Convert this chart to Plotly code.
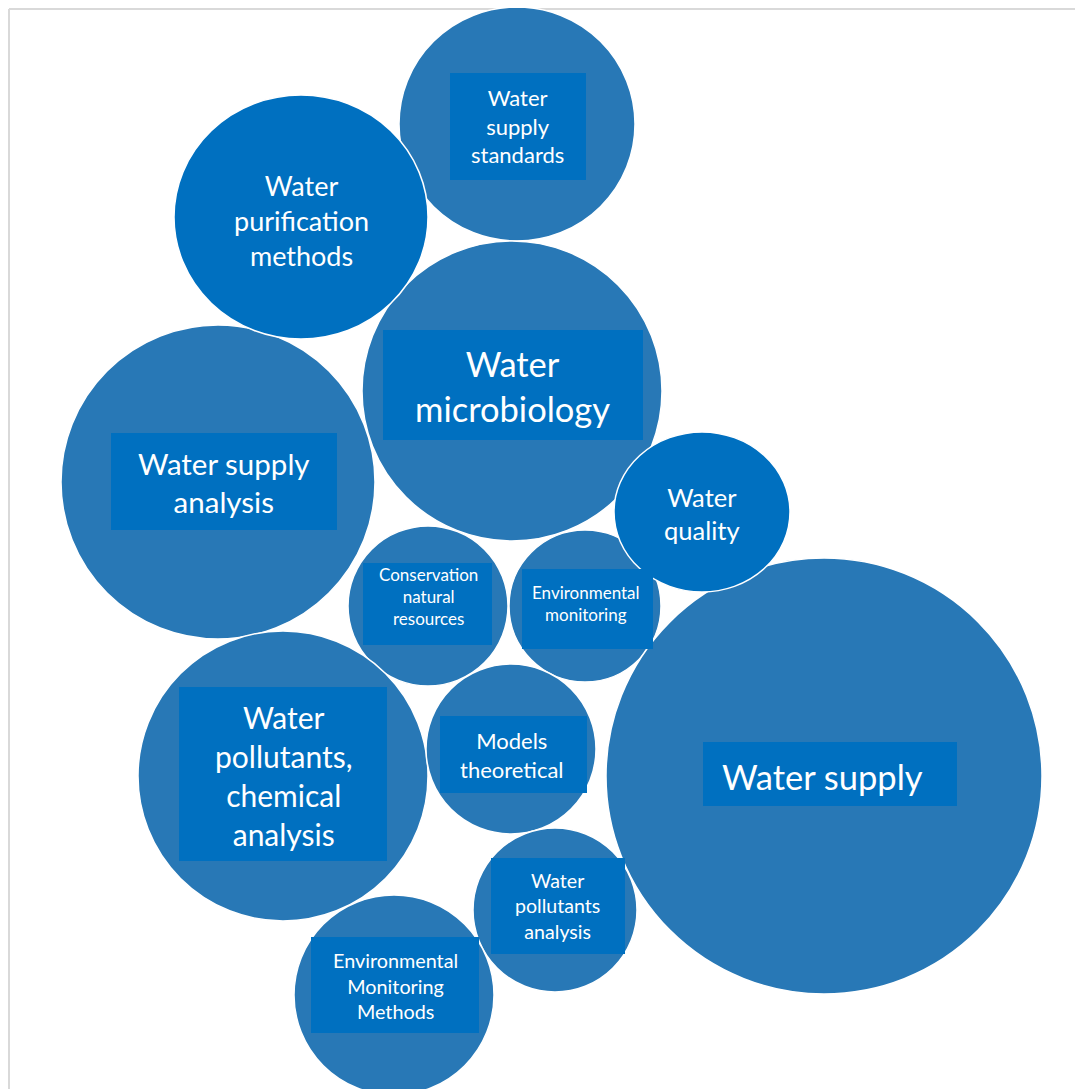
import plotly.graph_objects as go

# ---- data ----
labels = [
    "Water<br>supply<br>standards",
    "Water<br>purification<br>methods",
    "Water<br>microbiology",
    "Water supply<br>analysis",
    "Conservation<br>natural<br>resources",
    "Environmental<br>monitoring",
    "Water<br>pollutants,<br>chemical<br>analysis",
    "Models<br>theoretical",
    "Water supply",
    "Water<br>pollutants<br>analysis",
    "Environmental<br>Monitoring<br>Methods",
    "Water<br>quality",
]
cx = [517, 301, 512, 218, 428, 585, 283, 511, 824, 555, 394, 702]
cy = [124, 217, 391, 482, 606, 606, 776, 749, 776, 910, 995, 512]
rx = [118, 127, 150, 157, 80, 76, 145, 85, 218, 82, 100, 88]
ry = [117, 122, 150, 157, 80, 76, 145, 85, 218, 82, 100, 80]
highlight = [False, True, False, False, False, False, False, False, False, False, False, True]
has_box = [True, False, True, True, True, True, True, True, True, True, True, False]
box_x0 = [450, 0, 383, 111, 363, 522, 179, 440, 703, 491, 311, 0]
box_x1 = [586, 0, 643, 337, 492, 653, 387, 587, 957, 625, 479, 0]
box_y0 = [73, 0, 330, 433, 563, 569, 687, 716, 742, 858, 937, 0]
box_y1 = [180, 0, 440, 530, 645, 649, 861, 793, 806, 954, 1033, 0]
text_x = [517, 301, 512, 224, 428, 586, 283, 512, 822, 557, 395, 702]
text_y = [126, 220, 386, 482, 596, 603, 775, 755, 776, 906, 985, 513]
font_sizes = [22, 27, 34.5, 29.5, 17, 17, 30, 22, 34.5, 19.6, 19.8, 25.5]

W, H = 1083, 1089
OFF = 8  # page body margin
circle_color = "#2878B6"
hi_color = "#0070C0"
box_color = "#0070C0"

fig = go.Figure()
fig.add_trace(go.Scatter(x=cx, y=cy, mode="markers", marker=dict(opacity=0), hoverinfo="skip", showlegend=False))

shapes = []
shapes.append(dict(type="line", xref="x", yref="y", x0=9, x1=W, y0=9, y1=9, line=dict(color="#d9d9d9", width=2), layer="below"))
shapes.append(dict(type="line", xref="x", yref="y", x0=9, x1=9, y0=9, y1=H, line=dict(color="#d9d9d9", width=2), layer="below"))

order = [i for i in range(len(labels)) if not highlight[i]] + [i for i in range(len(labels)) if highlight[i]]
for i in order:
    shapes.append(dict(type="circle", xref="x", yref="y",
                       x0=cx[i] - rx[i], x1=cx[i] + rx[i], y0=cy[i] - ry[i], y1=cy[i] + ry[i],
                       fillcolor=hi_color if highlight[i] else circle_color,
                       line=dict(color="white", width=1.5), layer="above"))
for i in range(len(labels)):
    if has_box[i]:
        shapes.append(dict(type="rect", xref="x", yref="y",
                           x0=box_x0[i], x1=box_x1[i], y0=box_y0[i], y1=box_y1[i],
                           fillcolor=box_color, line=dict(width=0), layer="above"))

annotations = []
for i in range(len(labels)):
    annotations.append(dict(x=text_x[i], y=text_y[i], xref="x", yref="y", text=labels[i],
                            showarrow=False, align="center",
                            font=dict(family="Lato", size=font_sizes[i], color="white")))

fig.update_layout(
    width=W - OFF, height=H - OFF,
    margin=dict(l=0, r=0, t=0, b=0),
    paper_bgcolor="white", plot_bgcolor="white",
    xaxis=dict(range=[OFF, W], visible=False, fixedrange=True),
    yaxis=dict(range=[H, OFF], visible=False, fixedrange=True),
    shapes=shapes, annotations=annotations, showlegend=False,
)
fig.write_html("out.html")
